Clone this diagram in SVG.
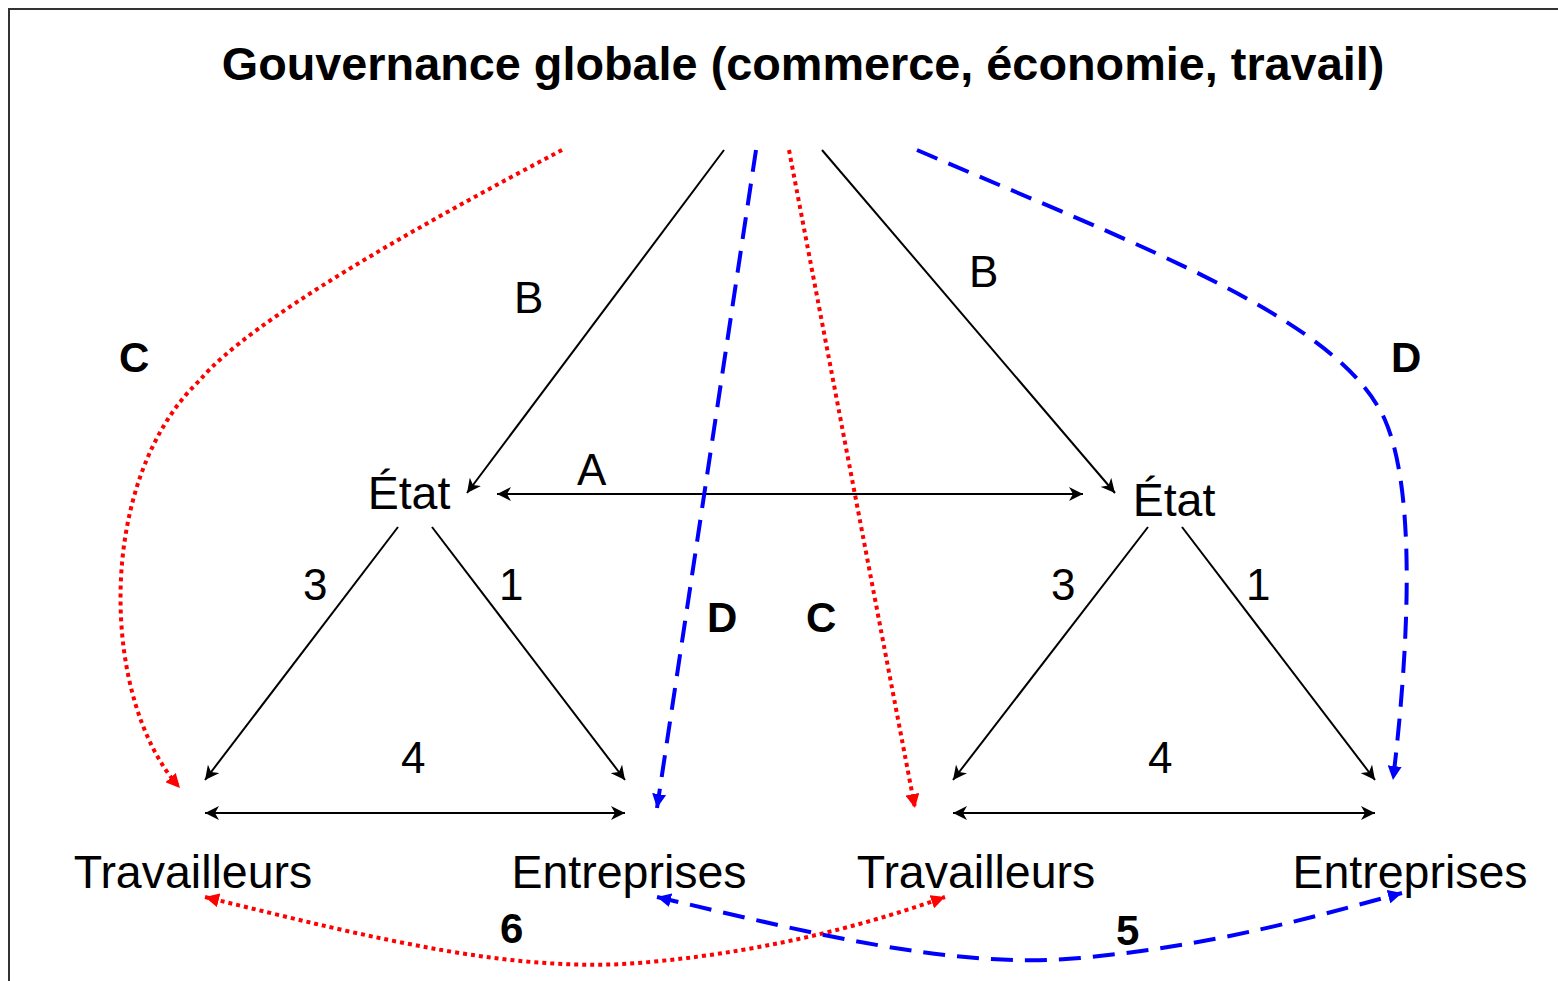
<svg xmlns="http://www.w3.org/2000/svg" width="1558" height="981" viewBox="0 0 1558 981">
<style>
text{font-family:"Liberation Sans",Arial,sans-serif;fill:#000}
.t{font-size:46.8px;font-weight:bold}
.n{font-size:46.5px}
.l{font-size:44px}
.b{font-size:42px;font-weight:bold}
.k{stroke:#000;stroke-width:2;fill:none}
.r{stroke:#ff0000;stroke-width:4;fill:none;stroke-dasharray:4 4}
.u{stroke:#0000ff;stroke-width:4;fill:none;stroke-dasharray:22 12}
</style>
<defs>
<marker id="ak" markerUnits="userSpaceOnUse" markerWidth="16" markerHeight="14" refX="14" refY="7" orient="auto-start-reverse"><path d="M0,0 L14,7 L0,14 L4,7 z" fill="#000"/></marker>
<marker id="ar" markerUnits="userSpaceOnUse" markerWidth="16" markerHeight="14" refX="14" refY="7" orient="auto-start-reverse"><path d="M0,0 L14,7 L0,14 z" fill="#ff0000"/></marker>
<marker id="ab" markerUnits="userSpaceOnUse" markerWidth="16" markerHeight="14" refX="14" refY="7" orient="auto-start-reverse"><path d="M0,0 L14,7 L0,14 z" fill="#0000ff"/></marker>
</defs>
<rect x="9" y="9" width="1560" height="990" fill="#fff" stroke="#333" stroke-width="2"/>
<g id="title"><text class="t" x="803" y="80" text-anchor="middle">Gouvernance globale (commerce, économie, travail)</text></g>
<g id="etat-l"><text class="n" x="409" y="509" text-anchor="middle">État</text></g>
<g id="etat-r"><text class="n" x="1174" y="516" text-anchor="middle">État</text></g>
<g id="trav-l"><text class="n" x="193" y="888" text-anchor="middle">Travailleurs</text></g>
<g id="entr-l"><text class="n" x="629" y="888" text-anchor="middle">Entreprises</text></g>
<g id="trav-r"><text class="n" x="976" y="888" text-anchor="middle">Travailleurs</text></g>
<g id="entr-r"><text class="n" x="1410" y="888" text-anchor="middle">Entreprises</text></g>
<g id="connectors">
<line class="k" x1="724" y1="150" x2="467" y2="493" marker-end="url(#ak)"/>
<line class="k" x1="822" y1="150" x2="1115" y2="493" marker-end="url(#ak)"/>
<line class="k" x1="497" y1="494" x2="1083" y2="494" marker-start="url(#ak)" marker-end="url(#ak)"/>
<line class="k" x1="398" y1="527" x2="205" y2="780" marker-end="url(#ak)"/>
<line class="k" x1="432" y1="527" x2="625" y2="780" marker-end="url(#ak)"/>
<line class="k" x1="205" y1="813" x2="625" y2="813" marker-start="url(#ak)" marker-end="url(#ak)"/>
<line class="k" x1="1148" y1="527" x2="953" y2="780" marker-end="url(#ak)"/>
<line class="k" x1="1182" y1="527" x2="1375" y2="780" marker-end="url(#ak)"/>
<line class="k" x1="953" y1="813" x2="1375" y2="813" marker-start="url(#ak)" marker-end="url(#ak)"/>
<path class="r" d="M562,150 C420,225 250,320 200,380 C95,480 100,700 180,788" marker-end="url(#ar)"/>
<line class="r" x1="789" y1="150" x2="915" y2="808" marker-end="url(#ar)"/>
<path class="r" d="M205,897 C380,940 520,975 650,962 C780,950 880,920 945,897" marker-start="url(#ar)" marker-end="url(#ar)"/>
<line class="u" x1="756" y1="150" x2="657" y2="808" marker-end="url(#ab)"/>
<path class="u" d="M917,150 C1150,250 1340,320 1385,420 C1420,500 1405,680 1393,780" marker-end="url(#ab)"/>
<path class="u" d="M657,897 C800,930 950,970 1080,958 C1220,945 1320,915 1402,893" marker-start="url(#ab)" marker-end="url(#ab)"/>
</g>
<g id="labels">
<text class="l" x="514" y="313">B</text>
<text class="l" x="969" y="287">B</text>
<text class="l" x="577" y="485">A</text>
<text class="b" x="119" y="372">C</text>
<text class="b" x="1391" y="372">D</text>
<text class="b" x="707" y="632">D</text>
<text class="b" x="806" y="632">C</text>
<text class="l" x="303" y="600">3</text>
<text class="l" x="499" y="600">1</text>
<text class="l" x="1051" y="600">3</text>
<text class="l" x="1246" y="600">1</text>
<text class="l" x="401" y="773">4</text>
<text class="l" x="1148" y="773">4</text>
<text class="b" x="500" y="943">6</text>
<text class="b" x="1116" y="945">5</text>
</g>
</svg>
